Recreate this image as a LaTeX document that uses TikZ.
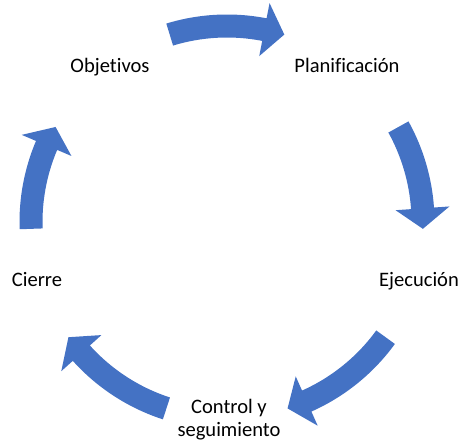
\documentclass[tikz,border=0pt]{standalone}
\usepackage{fontspec}
\setmainfont{Carlito}[Ligatures=NoCommon]
\usepackage{xcolor}
\usepackage{tikz}
\usetikzlibrary{positioning}
\definecolor{cycleblue}{HTML}{4472C4}

\begin{document}
\begin{tikzpicture}[x=0.02cm, y=0.02cm,
    stage/.style={font=\fontsize{11.7}{13}\selectfont, inner sep=0pt},
    cyclearrow/.style={fill=cycleblue, draw=none}]
    \useasboundingbox (0,0) rectangle (464,444);

    % Stages of the cycle
    \node[stage, anchor=base] (obj) at (110,372) {Objetivos};
    \node[stage, anchor=base] (plan) at (347,372) {Planificación};
    \node[stage, anchor=base] (ejec) at (419,158) {Ejecución};
    \node[stage, align=center] (ctrl) at (229,24) {Control y\\seguimiento};
    \node[stage, anchor=base] (cierre) at (37,158) {Cierre};

    % Curved block arrows (tail angle / tip angle)
    \begin{scope}[shift={(227,222)}]
        \foreach \a/\b in {107/73, 29/-2, -36/-72, -108/-144, 182/151} {
            \pgfmathsetmacro{\h}{\b+6}
            \fill[cyclearrow] (\a:207.5) arc[start angle=\a, end angle=\h, radius=207.5]
                -- (\h:223) -- (\b:196) -- (\h:169) -- (\h:184.5)
                arc[start angle=\h, end angle=\a, radius=184.5] -- cycle;
        }
    \end{scope}
\end{tikzpicture}
\end{document}
